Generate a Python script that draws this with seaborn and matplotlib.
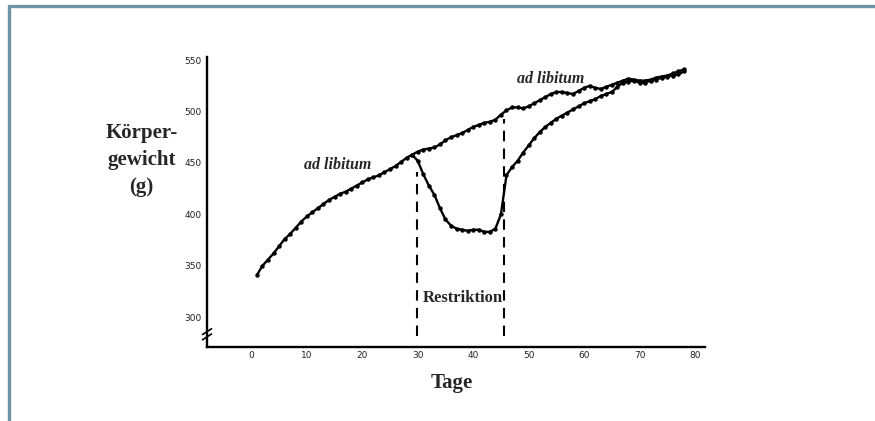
import matplotlib
matplotlib.use("Agg")
import matplotlib.pyplot as plt
from matplotlib.lines import Line2D
import numpy as np
import pandas as pd
import seaborn as sns

# ---- Daten ----
days_control = list(range(1, 79))
weight_control = [341, 350, 356, 362, 369, 376, 381, 387, 393, 398,
                  402, 406, 410, 414, 417, 420, 422, 425, 428, 431,
                  434, 436, 438, 441, 444, 447, 451, 455, 458, 461,
                  463, 464, 465, 468, 472, 475, 477, 479, 482, 485,
                  487, 489, 490, 492, 497, 501, 504, 504, 503, 505,
                  508, 511, 514, 517, 519, 519, 518, 517, 520, 523,
                  525, 523, 522, 524, 526, 528, 530, 532, 531, 530,
                  530, 531, 533, 534, 535, 537, 539, 541]

days_restricted = list(range(29, 79))
weight_restricted = [458, 452, 439, 428, 419, 406, 395, 389, 386, 385,
                     384, 385, 385, 383, 383, 386, 400, 438, 446, 452,
                     460, 467, 474, 480, 485, 489, 493, 496, 499, 502,
                     505, 508, 510, 512, 515, 517, 519, 524, 528, 529,
                     530, 528, 528, 530, 531, 533, 534, 535, 536, 539]

restriction_days = [29.8, 45.5]
restriction_top = [441, 493]
restriction_bottom = 282

x_ticks = list(range(0, 81, 10))
y_ticks = list(range(300, 551, 50))

df = pd.concat([
    pd.DataFrame({"Tage": days_control, "Gewicht": weight_control, "Gruppe": "ad libitum"}),
    pd.DataFrame({"Tage": days_restricted, "Gewicht": weight_restricted, "Gruppe": "Restriktion"}),
], ignore_index=True)

sns.set_style("white")
plt.rcParams["font.family"] = ["DejaVu Sans"]
SERIF = ["Liberation Serif", "DejaVu Serif"]

fig = plt.figure(figsize=(8.75, 4.21), dpi=100)
ax = fig.add_axes([0.2366, 0.1758, 0.5691, 0.6888])

sns.lineplot(data=df, x="Tage", y="Gewicht", hue="Gruppe", units="Gruppe",
             estimator=None, palette=["black", "black"], legend=False,
             marker="o", markersize=3.2, markeredgewidth=0, lw=1.7, ax=ax)

ax.vlines(restriction_days, restriction_bottom, restriction_top,
          colors="black", linestyles=(0, (5, 3.5)), lw=1.5)

ax.set_xlim(-8, 81.8)
ax.set_ylim(271, 553)
ax.set_xticks(x_ticks)
ax.set_yticks(y_ticks)
ax.tick_params(axis="x", direction="in", length=4, width=1.1, pad=3,
               labelsize=6.5, labelcolor="#222222")
ax.tick_params(axis="y", direction="inout", length=6, width=1.1, pad=1,
               labelsize=6.5, labelcolor="#222222")
for s in ["top", "right"]:
    ax.spines[s].set_visible(False)
for s in ["left", "bottom"]:
    ax.spines[s].set_linewidth(1.7)
    ax.spines[s].set_color("black")
ax.set_xlabel("")
ax.set_ylabel("")

# Achsenbruch
for dy in (0.0, 0.018):
    ax.plot([-0.009, 0.009], [0.025 + dy, 0.045 + dy], transform=ax.transAxes,
            color="black", lw=1.2, clip_on=False)

ax.text(9.4, 447.7, "ad libitum", family=SERIF, style="italic", weight="bold",
        fontsize=11.5, ha="left", va="center")
ax.text(47.9, 532, "ad libitum", family=SERIF, style="italic", weight="bold",
        fontsize=11.5, ha="left", va="center")
ax.text(38.2, 318.5, "Restriktion", family=SERIF, weight="bold",
        fontsize=12, ha="center", va="center")

fig.text(0.5166, 0.0903, "Tage", family=SERIF, weight="bold", fontsize=15,
         ha="center", va="center")
fig.text(0.162, 0.62, "Körper-\ngewicht\n(g)", family=SERIF, weight="bold",
         fontsize=15, ha="center", va="center", linespacing=1.45)

# Rahmen
frame_color = "#6e93a6"
fig.add_artist(Line2D([8.5 / 875, 1], [1 - 5.5 / 421, 1 - 5.5 / 421],
                      transform=fig.transFigure, color=frame_color, lw=2.4))
fig.add_artist(Line2D([8.5 / 875, 8.5 / 875], [0, 1 - 5.5 / 421],
                      transform=fig.transFigure, color=frame_color, lw=2.4))

fig.savefig("out.png", dpi=100)
